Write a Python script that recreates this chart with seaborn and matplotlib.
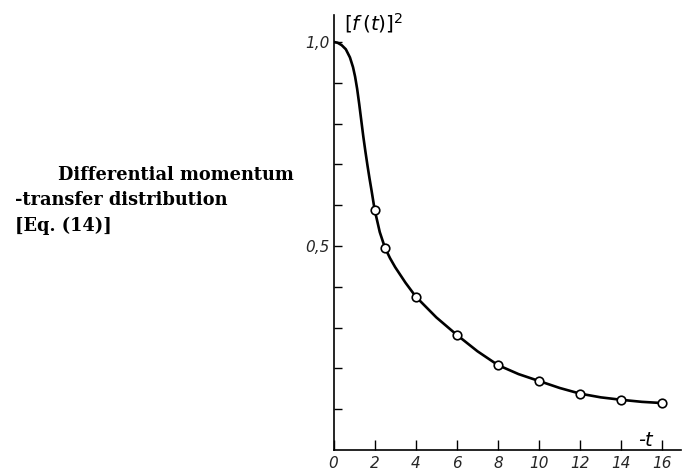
import matplotlib
matplotlib.use("Agg")
import matplotlib.pyplot as plt
import seaborn as sns
import pandas as pd

# Curve
curve_t = [0.0, 0.2, 0.4, 0.6, 0.8, 0.95, 1.05, 1.15, 1.25, 1.35, 1.45, 1.55, 1.65, 1.75,
           1.85, 2.0, 2.25, 2.5, 2.75, 3.0, 3.5, 4.0, 5.0, 6.0, 7.0, 8.0, 9.0, 10.0, 11.0,
           12.0, 13.0, 14.0, 15.0, 16.0]
curve_f = [1.0, 0.998, 0.992, 0.982, 0.962, 0.938, 0.915, 0.885, 0.848, 0.808, 0.768, 0.732,
           0.698, 0.666, 0.636, 0.589, 0.534, 0.496, 0.470, 0.448, 0.410, 0.376, 0.325,
           0.282, 0.242, 0.208, 0.186, 0.169, 0.152, 0.138, 0.129, 0.123, 0.118, 0.115]

# Measured points (open circles)
pts_t = [2.0, 2.5, 4.0, 6.0, 8.0, 10.0, 12.0, 14.0, 16.0]
pts_f = [0.589, 0.496, 0.376, 0.282, 0.208, 0.169, 0.138, 0.123, 0.115]

x_ticks = [0, 2, 4, 6, 8, 10, 12, 14, 16]
x_labels = ["0", "2", "4", "6", "8", "10", "12", "14", "16"]
y_ticks = [0.1, 0.2, 0.3, 0.4, 0.5, 0.6, 0.7, 0.8, 0.9, 1.0]
y_labels = ["", "", "", "", "0,5", "", "", "", "", "1,0"]

title_lines = ["Differential momentum", "-transfer distribution", "[Eq. (14)]"]

sns.set_theme(style="white")
plt.rcParams["font.family"] = ["DejaVu Sans"]

fig = plt.figure(figsize=(6.89, 4.70), dpi=100)
ax = fig.add_axes([333.5 / 689, 20 / 470, (681 - 333.5) / 689, 435 / 470])

curve_df = pd.DataFrame({"t": curve_t, "f": curve_f})
pts_df = pd.DataFrame({"t": pts_t, "f": pts_f})

sns.lineplot(data=curve_df, x="t", y="f", ax=ax, color="black", linewidth=1.9,
             sort=False, estimator=None)
sns.scatterplot(data=pts_df, x="t", y="f", ax=ax, s=38, facecolor="white",
                edgecolor="black", linewidth=1.2, zorder=5)

ax.set_xlim(0, 16.9)
ax.set_ylim(0, 1.066)
ax.set_xlabel("")
ax.set_ylabel("")

for s in ["top", "right"]:
    ax.spines[s].set_visible(False)
for s in ["left", "bottom"]:
    ax.spines[s].set_color("black")
    ax.spines[s].set_linewidth(1.2)

ax.set_xticks(x_ticks)
ax.set_xticklabels(x_labels, fontstyle="italic", fontsize=11)
ax.set_yticks(y_ticks)
ax.set_yticklabels(y_labels, fontstyle="italic", fontsize=11)
ax.tick_params(axis="x", direction="in", length=7, width=1.0, color="black", pad=4,
               bottom=True)
ax.tick_params(axis="y", direction="in", length=6, width=1.0, color="black", pad=3,
               left=True)

fig.text(344 / 689, 1 - 30 / 470, r"$[f\,(t)]^2$", fontsize=14.5, color="black",
         ha="left", va="baseline")
fig.text(638 / 689, 1 - 446 / 470, "-t", fontsize=14, fontstyle="italic",
         ha="left", va="baseline", color="black")

serif = ["DejaVu Serif", "Liberation Serif"]
text_x = [58, 15, 15]
text_y = [180, 205, 231]
for line, tx, ty in zip(title_lines, text_x, text_y):
    fig.text(tx / 689, 1 - ty / 470, line, fontsize=12.8, fontweight="bold",
             family=serif, ha="left", va="baseline", color="black")

fig.savefig("out.png", dpi=100)
